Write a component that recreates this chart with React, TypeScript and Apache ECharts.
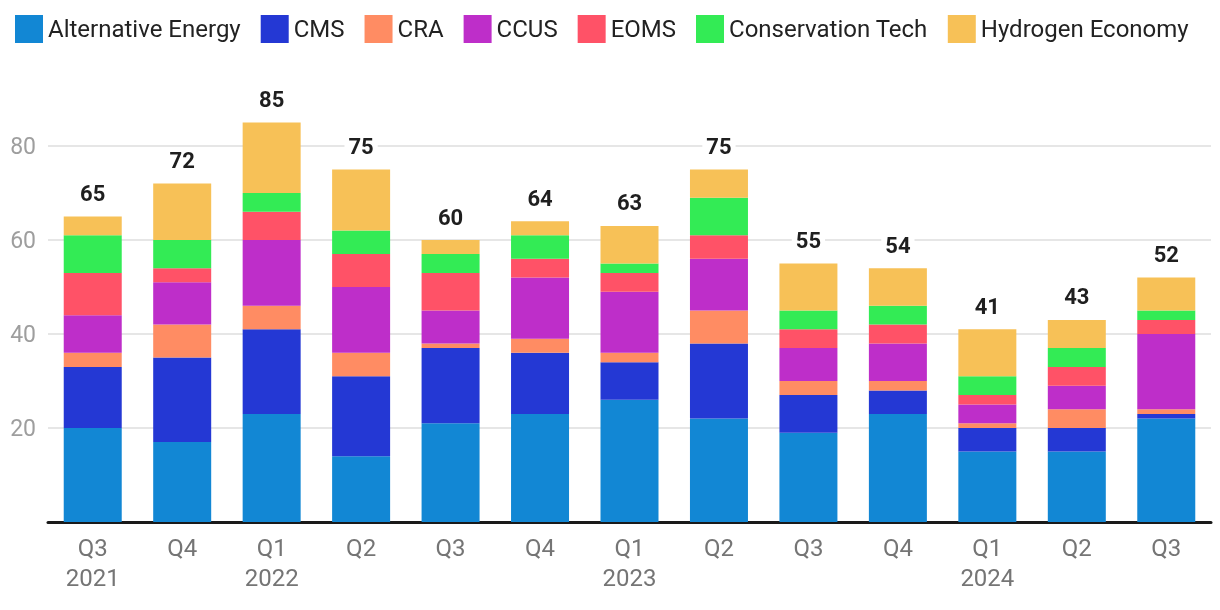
import React, { useEffect, useRef } from "react";
import * as echarts from "echarts";

const categories = ["Q3\n2021", "Q4", "Q1\n2022", "Q2", "Q3", "Q4", "Q1\n2023", "Q2", "Q3", "Q4", "Q1\n2024", "Q2", "Q3"];
const seriesNames = ["Alternative Energy", "CMS", "CRA", "CCUS", "EOMS", "Conservation Tech", "Hydrogen Economy"];
const colors = ["#1287D4", "#2438D4", "#FF8C63", "#BE2EC9", "#FF5267", "#33EB55", "#F7C157"];

const alternativeEnergy = [20, 17, 23, 14, 21, 23, 26, 22, 19, 23, 15, 15, 22];
const cms = [13, 18, 18, 17, 16, 13, 8, 16, 8, 5, 5, 5, 1];
const cra = [3, 7, 5, 5, 1, 3, 2, 7, 3, 2, 1, 4, 1];
const ccus = [8, 9, 14, 14, 7, 13, 13, 11, 7, 8, 4, 5, 16];
const eoms = [9, 3, 6, 7, 8, 4, 4, 5, 4, 4, 2, 4, 3];
const conservationTech = [8, 6, 4, 5, 4, 5, 2, 8, 4, 4, 4, 4, 2];
const hydrogenEconomy = [4, 12, 15, 13, 3, 3, 8, 6, 10, 8, 10, 6, 7];

const yTicks = [0, 20, 40, 60, 80, 100];

export default function App() {
  const ref = useRef<HTMLDivElement>(null);
  useEffect(() => {
    if (!ref.current) return;
    const chart = echarts.init(ref.current, undefined, { renderer: "svg" });
    const all = [alternativeEnergy, cms, cra, ccus, eoms, conservationTech, hydrogenEconomy];
    const totals = categories.map((_, i) => all.reduce((s, arr) => s + arr[i], 0));
    const font = "Roboto";
    chart.setOption({
      animation: false,
      textStyle: { fontFamily: font },
      color: colors,
      legend: {
        top: 10,
        left: 10,
        itemWidth: 28,
        itemHeight: 28,
        itemGap: 20,
        icon: "rect",
        textStyle: { fontSize: 24, color: "#222", fontFamily: font, padding: [0, 0, 0, 0] },
        data: seriesNames,
      },
      grid: { left: 48, right: 9, top: 52, bottom: 88, containLabel: false },
      xAxis: {
        type: "category",
        data: categories,
        axisLine: { show: true, lineStyle: { color: "#1a1a1a", width: 3 } },
        axisTick: { show: false },
        axisLabel: { color: "#757575", fontSize: 24, lineHeight: 30, margin: 11, fontFamily: font },
      },
      yAxis: {
        type: "value",
        min: yTicks[0],
        max: yTicks[yTicks.length - 1],
        interval: 20,
        axisLine: { show: false },
        axisTick: { show: false },
        axisLabel: {
          color: "#9e9e9e",
          fontSize: 23,
          margin: 12,
          fontFamily: font,
          showMinLabel: false,
          showMaxLabel: false,
        },
        splitLine: { show: true, showMinLine: false, showMaxLine: false, lineStyle: { color: "#e6e6e6", width: 2 } },
      },
      series: all.map((arr, idx) => ({
        name: seriesNames[idx],
        type: "bar",
        stack: "total",
        barWidth: 58,
        data: arr,
        itemStyle: { color: colors[idx] },
        label:
          idx === all.length - 1
            ? {
                show: true,
                position: "top",
                distance: 10,
                formatter: (p: any) => String(totals[p.dataIndex]),
                color: "#1f1f1f",
                fontSize: 22,
                fontWeight: "bold",
                fontFamily: font,
                backgroundColor: "#fff",
                padding: [2, 4],
              }
            : { show: false },
      })),
    });
    return () => chart.dispose();
  }, []);
  return <div ref={ref} style={{ position: "fixed", left: 0, top: 0, width: 1220, height: 610 }} />;
}
